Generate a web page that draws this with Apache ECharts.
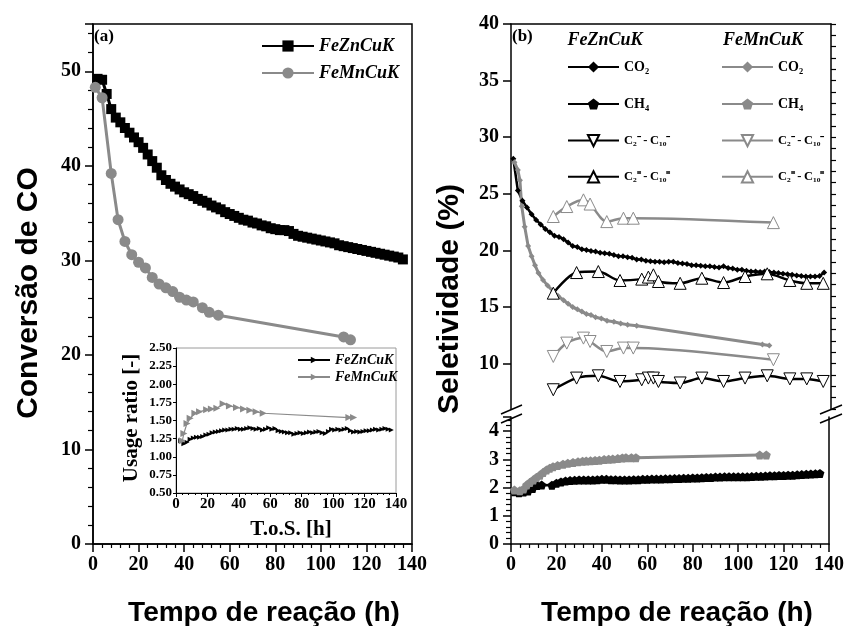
<!DOCTYPE html>
<html><head><meta charset="utf-8">
<script src="https://cdn.jsdelivr.net/npm/echarts@6.0.0/dist/echarts.min.js"></script>
<style>html,body{margin:0;padding:0;background:#fff}#c{width:847px;height:626px}</style>
</head><body><div id="c"></div>
<script>
// ---------- Panel (a): CO conversion ----------
const timeConvZn = [2,4,6,8,10,12,14,16,18,20,22,24,26,28,30,32,34,36,38,40,42,44,46,48,50,52,54,56,58,60,62,64,66,68,70,72,74,76,78,80,82,84,86,88,90,92,94,96,98,100,102,104,106,108,110,112,114,116,118,120,122,124,126,128,130,132,134,136];
const convZn = [49.2,49.1,47.6,46.0,45.1,44.6,44.0,43.5,43.0,42.5,41.9,41.2,40.5,39.8,39.0,38.5,38.1,37.8,37.5,37.2,37.0,36.8,36.5,36.3,36.1,35.8,35.6,35.4,35.1,34.9,34.7,34.5,34.3,34.2,34.0,33.9,33.7,33.6,33.4,33.3,33.2,33.2,33.1,32.8,32.6,32.5,32.4,32.3,32.2,32.1,32.0,31.9,31.8,31.6,31.5,31.4,31.3,31.2,31.1,31.0,30.9,30.8,30.7,30.6,30.5,30.4,30.3,30.1];
const timeConvMn = [1,4,8,11,14,17,20,23,26,29,32,35,38,41,44,48,51,55,110,113];
const convMn = [48.3,47.2,39.2,34.3,32.0,30.6,29.8,29.2,28.2,27.5,27.1,26.7,26.1,25.8,25.6,25.0,24.5,24.2,21.9,21.6];

// ---------- Inset: usage ratio ----------
const timeUsageZn = [3,5,7,9,11,13,15,17,19,21,23,25,27,29,31,33,35,37,39,41,43,45,47,49,51,53,55,57,59,61,63,65,67,69,71,73,75,77,79,81,83,85,87,89,91,93,95,97,99,101,103,105,107,109,111,113,115,117,119,121,123,125,127,129,131,133,135,137];
const usageZn = [1.22,1.18,1.20,1.24,1.26,1.27,1.27,1.28,1.30,1.31,1.33,1.34,1.35,1.36,1.37,1.37,1.38,1.38,1.39,1.38,1.38,1.39,1.40,1.39,1.38,1.39,1.37,1.38,1.40,1.38,1.39,1.36,1.35,1.34,1.33,1.33,1.31,1.32,1.33,1.32,1.33,1.34,1.33,1.34,1.35,1.33,1.32,1.35,1.38,1.37,1.38,1.37,1.38,1.39,1.36,1.34,1.35,1.34,1.35,1.36,1.36,1.37,1.38,1.37,1.38,1.39,1.38,1.37];
const timeUsageMn = [4,5,7,9,12,15,19.5,22.5,26,30,34,38.5,43,47,51,55.5,110,113];
const usageMn = [1.22,1.32,1.46,1.53,1.60,1.62,1.65,1.66,1.67,1.73,1.70,1.68,1.66,1.64,1.62,1.60,1.54,1.54];

// ---------- Panel (b): selectivity ----------
const timeCO2Zn = [1,3,5,7,9,11,13,15,17,19,21,23,25,27,29,31,33,35,37,39,41,43,45,47,49,51,53,55,57,59,61,63,65,67,69,71,73,75,77,79,81,83,85,87,89,91,93,95,97,99,101,103,105,107,109,111,113,115,117,119,121,123,125,127,129,131,133,135,137];
const co2Zn = [28.1,25.3,24.4,23.8,23.2,22.7,22.3,21.9,21.6,21.3,21.2,21.0,20.7,20.4,20.3,20.1,20.05,19.95,19.9,19.8,19.75,19.7,19.6,19.5,19.5,19.4,19.35,19.2,19.2,19.1,19.05,19.0,19.0,18.95,19.0,19.0,18.9,18.85,18.8,18.7,18.7,18.65,18.6,18.6,18.55,18.5,18.6,18.45,18.4,18.3,18.3,18.2,18.15,18.15,18.1,18.15,18.1,18.05,18.0,17.95,17.9,17.85,17.8,17.75,17.7,17.7,17.7,17.75,18.05];
const timeCO2Mn = [1.5,3,3.9,4.7,6,7.5,9,10.5,12,14,16,18.5,20.5,23,25,27,29,31,33,35,37,39.5,42,45,48,51,55,110,113];
const co2Mn = [27.8,27.1,26.2,23.9,22.1,20.4,19.5,18.7,18.0,17.4,16.9,16.4,16.0,15.6,15.3,15.0,14.8,14.6,14.4,14.3,14.1,14.0,13.8,13.7,13.55,13.45,13.35,11.7,11.6];

const timeCH4Zn = [1.5,3.5,5.5,7.5,9.5,11.5,13.5,18,20,22,24,26,28,30,32,34,36,38,40,42,44,46,48,50,52,54,56,58,60,62,64,66,68,70,72,74,76,78,80,82,84,86,88,90,92,94,96,98,100,102,104,106,108,110,112,114,116,118,120,122,124,126,128,130,132,134,136];
const ch4Zn = [1.85,1.82,1.84,1.88,1.97,2.07,2.09,2.08,2.15,2.20,2.23,2.25,2.26,2.27,2.27,2.27,2.27,2.28,2.29,2.29,2.28,2.28,2.27,2.27,2.27,2.28,2.28,2.29,2.29,2.30,2.30,2.30,2.31,2.31,2.32,2.32,2.33,2.33,2.34,2.34,2.35,2.36,2.36,2.37,2.37,2.38,2.38,2.38,2.38,2.38,2.38,2.39,2.40,2.40,2.41,2.42,2.42,2.43,2.43,2.44,2.44,2.45,2.46,2.47,2.48,2.49,2.50];
const timeCH4Mn = [1.5,3.9,5.5,6.9,8.3,9.8,11.2,12.7,14.1,15.6,17,18.5,20.5,22.9,25,27.3,29.5,31.5,33.1,35,37,38.9,41,43,44.8,47,49,50.6,53,55,109.5,112.4];
const ch4Mn = [1.91,1.89,1.95,2.09,2.18,2.27,2.36,2.44,2.53,2.62,2.68,2.74,2.78,2.83,2.86,2.89,2.91,2.93,2.94,2.95,2.96,2.97,2.99,3.00,3.01,3.03,3.05,3.06,3.06,3.06,3.15,3.15];

const timeHcZn = [18.5,28.7,38.2,47.7,57.2,60.1,62.3,64.5,74,83.5,93,102.4,112.1,122,129.4,136.6];
const paraZn = [7.7,8.73,8.93,8.43,8.58,8.73,8.73,8.43,8.3,8.73,8.43,8.73,8.93,8.66,8.66,8.43];
const oleZn = [16.23,18.05,18.14,17.35,17.47,17.65,17.85,17.26,17.1,17.55,17.17,17.7,17.94,17.35,17.1,17.1];
const timeHcMn = [18.5,24.4,31.7,34.6,41.9,49.2,53.5,114.8];
const paraMn = [10.64,11.82,12.26,11.96,11.08,11.38,11.38,10.35];
const oleMn = [23.0,23.88,24.47,24.1,22.55,22.85,22.85,22.46];

const upperTicks = [10,15,20,25,30,35,40];

const zip = (t, v) => t.map((x, i) => [x, v[i]]);

const BLACK = '#000';
const GRAY = '#8a8a8a';
const SERIF = 'Liberation Serif';
const SANS = 'Liberation Sans';
const tickFont = {fontFamily: SERIF, fontWeight: 'bold', fontSize: 20, color: BLACK};

const DOWN_TRI = 'path://M0,0 L10,0 L5,9 Z';
const UP_TRI = 'path://M5,0 L10,9 L0,9 Z';
const RIGHT_TRI = 'path://M0,0 L9,5 L0,10 Z';
const PENTA = 'path://M5,0 L10,3.6 L8.1,9.5 L1.9,9.5 L0,3.6 Z';

const labelMap = {
  'Zn CO2': 'CO₂', 'Zn CH4': 'CH₄', 'Zn para': '{c|C₂⁻\u2009-\u2009C₁₀⁻}', 'Zn ole': '{c|C₂⁼\u2009-\u2009C₁₀⁼}',
  'Mn CO2': 'CO₂', 'Mn CH4': 'CH₄', 'Mn para': '{c|C₂⁻\u2009-\u2009C₁₀⁻}', 'Mn ole': '{c|C₂⁼\u2009-\u2009C₁₀⁼}'
};
const legendRich = {c: {fontFamily: SERIF, fontWeight: 'bold', fontSize: 12.5, color: BLACK}};

function xAxisMain(grid) {
  return {
    gridIndex: grid, type: 'value', min: 0, max: 140, interval: 20,
    axisLine: {show: true, onZero: false, lineStyle: {color: BLACK, width: 1.5}},
    axisTick: {show: true, length: 8, lineStyle: {color: BLACK, width: 1.5}},
    minorTick: {show: true, splitNumber: 5, length: 4, lineStyle: {color: BLACK, width: 1.2}},
    axisLabel: Object.assign({margin: 11}, tickFont),
    splitLine: {show: false}, minorSplitLine: {show: false}
  };
}
function lineOnly(grid, pos, min, max) {
  return {
    gridIndex: grid, type: 'value', position: pos, min: min, max: max,
    axisLine: {show: true, onZero: false, lineStyle: {color: BLACK, width: 1.5}},
    axisTick: {show: false}, axisLabel: {show: false}, splitLine: {show: false}
  };
}

const chart = echarts.init(document.getElementById('c'), null, {renderer: 'canvas'});

const option = {
  animation: false,
  backgroundColor: '#fff',
  grid: [
    {left: 93, top: 24, width: 319, height: 520, show: true, borderColor: BLACK, borderWidth: 1.5},
    {left: 176, top: 348, width: 220, height: 145, show: true, backgroundColor: '#fff', borderColor: '#9a9a9a', borderWidth: 1, z: 5},
    {left: 511, top: 24, width: 320, height: 385},
    {left: 511, top: 417, width: 320, height: 127}
  ],
  xAxis: [
    xAxisMain(0),
    {
      gridIndex: 1, type: 'value', min: 0, max: 140, interval: 20, z: 6,
      axisLine: {show: true, onZero: false, lineStyle: {color: BLACK, width: 1}},
      axisTick: {show: true, length: 4, lineStyle: {color: BLACK}},
      minorTick: {show: true, splitNumber: 5, length: 2, lineStyle: {color: BLACK}},
      axisLabel: {fontFamily: SERIF, fontWeight: 'bold', fontSize: 15, color: BLACK, margin: 4},
      splitLine: {show: false}
    },
    lineOnly(2, 'top', 0, 140),
    xAxisMain(3)
  ],
  yAxis: [
    {
      gridIndex: 0, type: 'value', min: 0, max: 55, interval: 10,
      axisLine: {show: true, lineStyle: {color: BLACK, width: 1.5}},
      axisTick: {show: true, length: 8, lineStyle: {color: BLACK, width: 1.5}},
      minorTick: {show: true, splitNumber: 5, length: 5, lineStyle: {color: BLACK, width: 1.2}},
      axisLabel: Object.assign({margin: 12, formatter: v => (v % 10 === 0 ? String(v) : '')}, tickFont),
      splitLine: {show: false}
    },
    {
      gridIndex: 1, type: 'value', min: 0.5, max: 2.5, interval: 0.25, z: 6,
      axisLine: {show: true, lineStyle: {color: BLACK, width: 1}},
      axisTick: {show: true, length: 3, lineStyle: {color: BLACK}},
      axisLabel: {fontFamily: SERIF, fontWeight: 'bold', fontSize: 13, color: BLACK, margin: 4, formatter: v => v.toFixed(2)},
      splitLine: {show: false}
    },
    {
      gridIndex: 2, type: 'value', min: 6, max: 40,
      axisLine: {show: true, lineStyle: {color: BLACK, width: 1.5}},
      axisTick: {show: true, length: 8, customValues: upperTicks, lineStyle: {color: BLACK, width: 1.5}},
      axisLabel: Object.assign({margin: 12, customValues: upperTicks}, tickFont),
      splitLine: {show: false}
    },
    {
      gridIndex: 2, type: 'value', min: 6, max: 40, interval: 1,
      axisLine: {show: false},
      axisTick: {show: true, length: 5, lineStyle: {color: BLACK, width: 1.2}},
      axisLabel: {show: false}, splitLine: {show: false}
    },
    lineOnly(2, 'right', 6, 40),
    {
      gridIndex: 3, type: 'value', min: 0, max: 4.5, interval: 1,
      axisLine: {show: true, lineStyle: {color: BLACK, width: 1.5}},
      axisTick: {show: true, length: 8, lineStyle: {color: BLACK, width: 1.5}},
      minorTick: {show: true, splitNumber: 5, length: 5, lineStyle: {color: BLACK, width: 1.2}},
      axisLabel: Object.assign({margin: 12, formatter: v => (v % 1 === 0 ? String(v) : '')}, tickFont),
      splitLine: {show: false}
    },
    lineOnly(3, 'right', 0, 4.5)
  ],
  legend: [
    {
      data: ['FeZnCuK', 'FeMnCuK'], left: 261, top: 37, orient: 'vertical', padding: 0,
      itemWidth: 52, itemHeight: 14, itemGap: 9, selectedMode: false,
      textStyle: {fontFamily: SERIF, fontStyle: 'italic', fontWeight: 'bold', fontSize: 18, color: BLACK}
    },
    {
      data: ['FeZnCuK ratio', 'FeMnCuK ratio'], left: 297, top: 353, orient: 'vertical', z: 7, padding: 0,
      itemWidth: 32, itemHeight: 8, itemGap: 3, selectedMode: false,
      formatter: n => n.replace(' ratio', ''),
      textStyle: {fontFamily: SERIF, fontStyle: 'italic', fontWeight: 'bold', fontSize: 14, color: BLACK}
    },
    {
      data: ['Zn CO2', 'Zn CH4', 'Zn para', 'Zn ole'], left: 567, top: 60, orient: 'vertical', padding: 0,
      itemWidth: 51, itemHeight: 14, itemGap: 23, selectedMode: false,
      formatter: n => labelMap[n],
      textStyle: {fontFamily: SERIF, fontWeight: 'bold', fontSize: 14, color: BLACK, rich: legendRich}
    },
    {
      data: ['Mn CO2', 'Mn CH4', 'Mn para', 'Mn ole'], left: 721, top: 60, orient: 'vertical', padding: 0,
      itemWidth: 51, itemHeight: 14, itemGap: 23, selectedMode: false,
      formatter: n => labelMap[n],
      textStyle: {fontFamily: SERIF, fontWeight: 'bold', fontSize: 14, color: BLACK, rich: legendRich}
    }
  ],
  series: [
    {name: 'FeZnCuK', type: 'line', xAxisIndex: 0, yAxisIndex: 0, data: zip(timeConvZn, convZn),
     symbol: 'rect', symbolSize: 10, showAllSymbol: true,
     lineStyle: {color: BLACK, width: 3}, itemStyle: {color: BLACK}},
    {name: 'FeMnCuK', type: 'line', xAxisIndex: 0, yAxisIndex: 0, data: zip(timeConvMn, convMn),
     symbol: 'circle', symbolSize: 11, showAllSymbol: true,
     lineStyle: {color: GRAY, width: 3}, itemStyle: {color: GRAY}},
    {name: 'FeZnCuK ratio', type: 'line', xAxisIndex: 1, yAxisIndex: 1, data: zip(timeUsageZn, usageZn), z: 8,
     symbol: RIGHT_TRI, symbolSize: 5, showAllSymbol: true,
     lineStyle: {color: BLACK, width: 1.5}, itemStyle: {color: BLACK}},
    {name: 'FeMnCuK ratio', type: 'line', xAxisIndex: 1, yAxisIndex: 1, data: zip(timeUsageMn, usageMn), z: 8,
     symbol: RIGHT_TRI, symbolSize: 7, showAllSymbol: true,
     lineStyle: {color: GRAY, width: 1.2}, itemStyle: {color: GRAY}},

    {name: 'Zn CO2', type: 'line', xAxisIndex: 2, yAxisIndex: 2, data: zip(timeCO2Zn, co2Zn),
     symbol: 'diamond', symbolSize: 6, showAllSymbol: true,
     lineStyle: {color: BLACK, width: 2.5}, itemStyle: {color: BLACK}},
    {name: 'Mn CO2', type: 'line', xAxisIndex: 2, yAxisIndex: 2, data: zip(timeCO2Mn, co2Mn),
     symbol: 'diamond', symbolSize: 6, showAllSymbol: true,
     lineStyle: {color: GRAY, width: 3}, itemStyle: {color: GRAY}},
    {name: 'Zn para', type: 'line', xAxisIndex: 2, yAxisIndex: 2, data: zip(timeHcZn, paraZn), smooth: 0.3,
     symbol: DOWN_TRI, symbolSize: 12, showAllSymbol: true,
     lineStyle: {color: BLACK, width: 2.5}, itemStyle: {color: '#fff', borderColor: BLACK, borderWidth: 1}},
    {name: 'Mn para', type: 'line', xAxisIndex: 2, yAxisIndex: 2, data: zip(timeHcMn, paraMn), smooth: 0.3,
     symbol: DOWN_TRI, symbolSize: 12, showAllSymbol: true,
     lineStyle: {color: GRAY, width: 2.5}, itemStyle: {color: '#fff', borderColor: GRAY, borderWidth: 1}},
    {name: 'Zn ole', type: 'line', xAxisIndex: 2, yAxisIndex: 2, data: zip(timeHcZn, oleZn), smooth: 0.3,
     symbol: UP_TRI, symbolSize: 12, showAllSymbol: true,
     lineStyle: {color: BLACK, width: 2.5}, itemStyle: {color: '#fff', borderColor: BLACK, borderWidth: 1}},
    {name: 'Mn ole', type: 'line', xAxisIndex: 2, yAxisIndex: 2, data: zip(timeHcMn, oleMn), smooth: 0.3,
     symbol: UP_TRI, symbolSize: 12, showAllSymbol: true,
     lineStyle: {color: GRAY, width: 2.5}, itemStyle: {color: '#fff', borderColor: GRAY, borderWidth: 1}},

    {name: 'Zn CH4', type: 'line', xAxisIndex: 3, yAxisIndex: 5, data: zip(timeCH4Zn, ch4Zn),
     symbol: PENTA, symbolSize: 9, showAllSymbol: true,
     lineStyle: {color: BLACK, width: 2.5}, itemStyle: {color: BLACK}},
    {name: 'Mn CH4', type: 'line', xAxisIndex: 3, yAxisIndex: 5, data: zip(timeCH4Mn, ch4Mn),
     symbol: PENTA, symbolSize: 9, showAllSymbol: true,
     lineStyle: {color: GRAY, width: 3}, itemStyle: {color: GRAY}}
  ],
  graphic: [
    {type: 'text', x: 29, y: 293, rotation: Math.PI / 2,
     style: {text: 'Conversão de CO', fontFamily: SANS, fontWeight: 'bold', fontSize: 30, fill: BLACK, align: 'center', verticalAlign: 'middle'}},
    {type: 'text', x: 450, y: 299, rotation: Math.PI / 2,
     style: {text: 'Seletividade (%)', fontFamily: SANS, fontWeight: 'bold', fontSize: 30, fill: BLACK, align: 'center', verticalAlign: 'middle'}},
    {type: 'text', x: 264, y: 613,
     style: {text: 'Tempo de reação (h)', fontFamily: SANS, fontWeight: 'bold', fontSize: 28, fill: BLACK, align: 'center', verticalAlign: 'middle'}},
    {type: 'text', x: 677, y: 613,
     style: {text: 'Tempo de reação (h)', fontFamily: SANS, fontWeight: 'bold', fontSize: 28, fill: BLACK, align: 'center', verticalAlign: 'middle'}},
    {type: 'text', x: 132, y: 418, rotation: Math.PI / 2, z: 10,
     style: {text: 'Usage ratio [-]', fontFamily: SERIF, fontWeight: 'bold', fontSize: 21, fill: BLACK, align: 'center', verticalAlign: 'middle'}},
    {type: 'text', x: 291, y: 530, z: 10,
     style: {text: 'T.o.S. [h]', fontFamily: SERIF, fontWeight: 'bold', fontSize: 21, fill: BLACK, align: 'center', verticalAlign: 'middle'}},
    {type: 'text', x: 94, y: 37,
     style: {text: '(a)', fontFamily: SERIF, fontWeight: 'bold', fontSize: 17, fill: BLACK, align: 'left', verticalAlign: 'middle'}},
    {type: 'text', x: 512, y: 37,
     style: {text: '(b)', fontFamily: SERIF, fontWeight: 'bold', fontSize: 17, fill: BLACK, align: 'left', verticalAlign: 'middle'}},
    {type: 'text', x: 605, y: 40,
     style: {text: 'FeZnCuK', fontFamily: SERIF, fontStyle: 'italic', fontWeight: 'bold', fontSize: 18, fill: BLACK, align: 'center', verticalAlign: 'middle'}},
    {type: 'text', x: 763, y: 40,
     style: {text: 'FeMnCuK', fontFamily: SERIF, fontStyle: 'italic', fontWeight: 'bold', fontSize: 18, fill: BLACK, align: 'center', verticalAlign: 'middle'}},
    // axis-break marks
    {type: 'line', shape: {x1: 501, y1: 414, x2: 522, y2: 405}, style: {stroke: BLACK, lineWidth: 1.5}},
    {type: 'line', shape: {x1: 501, y1: 423, x2: 522, y2: 414}, style: {stroke: BLACK, lineWidth: 1.5}},
    {type: 'line', shape: {x1: 820, y1: 414, x2: 842, y2: 405}, style: {stroke: BLACK, lineWidth: 1.5}},
    {type: 'line', shape: {x1: 820, y1: 423, x2: 842, y2: 414}, style: {stroke: BLACK, lineWidth: 1.5}}
  ]
};
chart.setOption(option);
</script></body></html>
